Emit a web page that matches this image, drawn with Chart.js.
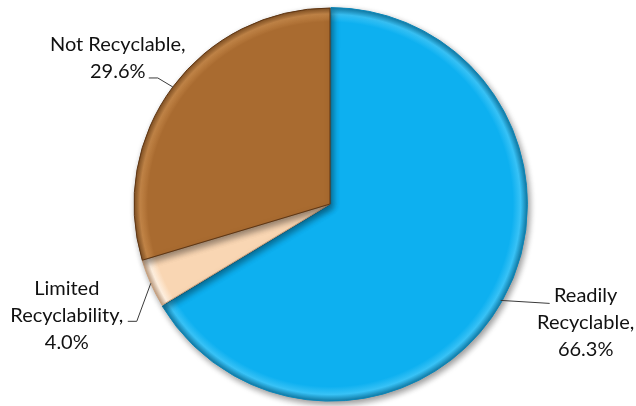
<!DOCTYPE html>
<html>
<head>
<meta charset="utf-8">
<script src="https://cdn.jsdelivr.net/npm/chart.js@4.4.1/dist/chart.umd.min.js"></script>
<style>
  html, body { margin: 0; padding: 0; background: #fff; }
  #wrap { width: 636px; height: 406px; }
</style>
</head>
<body>
<div id="wrap"><canvas id="pieCanvas"></canvas></div>
<script>
// recyclability shares, clockwise from 12 o'clock
const categories = ['Readily Recyclable', 'Limited Recyclability', 'Not Recyclable'];
const labelLines = [['Readily', 'Recyclable,'], ['Limited', 'Recyclability,'], ['Not Recyclable,']];
const shares = [66.3, 4.0, 29.6];

const baseColors = ['#0DB0F0', '#F9D6B3', '#A96B30'];
const rimLight = ['#38C2F6', '#FFF0E0', '#C48648'];
const rimDark = ['#0A6F99', '#B08866', '#6B3F17'];

// where each label sits relative to the point on the rim
const labelPlace = [
  { elbow: [49, 3], end: [49, 3], text: [85, 22] },
  { elbow: [-14, 38], end: [-23, 38], text: [-84, 32] },
  { elbow: [-15, -9], end: [-24, -9], text: [-55, -29] }
];

function sliceFill(ctx) {
  const chart = ctx.chart;
  const area = chart.chartArea;
  const i = ctx.dataIndex;
  if (!area) return baseColors[i];
  const cx = (area.left + area.right) / 2;
  const cy = (area.top + area.bottom) / 2;
  const r = Math.min(area.right - area.left, area.bottom - area.top) / 2;
  const g = chart.ctx.createRadialGradient(cx, cy, 0, cx, cy, r);
  g.addColorStop(0, baseColors[i]);
  g.addColorStop(0.92, baseColors[i]);
  g.addColorStop(0.96, rimLight[i]);
  g.addColorStop(1, rimDark[i]);
  return g;
}

const shadowPlugin = {
  id: 'pieShadow',
  beforeDatasetsDraw(chart) {
    const c = chart.ctx;
    c.save();
    c.shadowColor = 'rgba(0,0,0,0.4)';
    c.shadowBlur = 6;
    c.shadowOffsetX = 2;
    c.shadowOffsetY = 3;
  },
  afterDatasetsDraw(chart) {
    chart.ctx.restore();
  }
};

const calloutPlugin = {
  id: 'callouts',
  afterDraw(chart) {
    const c = chart.ctx;
    const meta = chart.getDatasetMeta(0);
    const fontSize = 20;
    const lineH = 27;
    c.save();
    c.font = fontSize + 'px Lato, "Open Sans", sans-serif';
    c.fillStyle = '#111';
    c.textAlign = 'center';
    c.textBaseline = 'middle';
    meta.data.forEach((arc, i) => {
      const p = arc.getProps(['x', 'y', 'startAngle', 'endAngle', 'outerRadius'], true);
      const mid = (p.startAngle + p.endAngle) / 2;
      const ax = p.x + Math.cos(mid) * p.outerRadius;
      const ay = p.y + Math.sin(mid) * p.outerRadius;
      const pl = labelPlace[i];
      c.strokeStyle = '#3a3a3a';
      c.lineWidth = 1;
      c.beginPath();
      c.moveTo(ax, ay);
      c.lineTo(ax + pl.elbow[0], ay + pl.elbow[1]);
      c.lineTo(ax + pl.end[0], ay + pl.end[1]);
      c.stroke();
      const lines = labelLines[i].concat([shares[i].toFixed(1) + '%']);
      const tx = ax + pl.text[0];
      const ty = ay + pl.text[1] - (lines.length - 1) * lineH / 2;
      lines.forEach((t, k) => c.fillText(t, tx, ty + k * lineH));
    });
    c.restore();
  }
};

new Chart(document.getElementById('pieCanvas'), {
  type: 'pie',
  data: {
    labels: categories,
    datasets: [{
      data: shares,
      backgroundColor: sliceFill,
      borderColor: ['#0A86B8', '#C9A07C', '#5E3512'],
      borderWidth: 1,
      offset: [3, 0, 0]
    }]
  },
  options: {
    responsive: true,
    maintainAspectRatio: false,
    animation: false,
    layout: { padding: { top: 6, bottom: 4, left: 24, right: 0 } },
    plugins: {
      legend: { display: false },
      tooltip: { enabled: false }
    }
  },
  plugins: [shadowPlugin, calloutPlugin]
});
</script>
</body>
</html>
